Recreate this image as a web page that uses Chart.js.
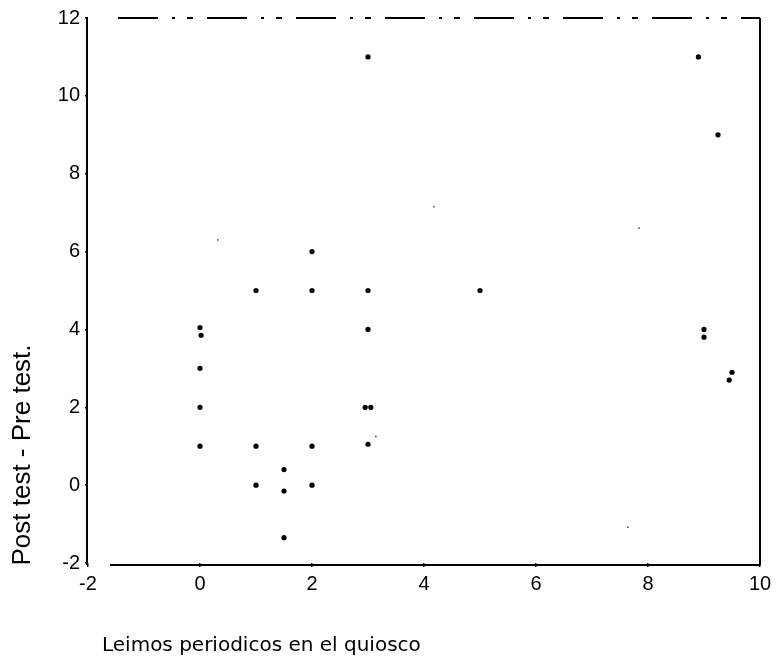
<!DOCTYPE html>
<html>
<head>
<meta charset="utf-8">
<title>Post test - Pre test</title>
<script src="https://cdn.jsdelivr.net/npm/chart.js@4.4.1/dist/chart.umd.min.js"></script>
<style>
    html, body { margin: 0; padding: 0; background: #fff; }
    #chart { display: block; }
</style>
</head>
<body>
<canvas id="chart" width="777" height="658"></canvas>
<script>
// Reading of newspapers at the kiosk vs. change in score (post - pre)
const lecturaX = [0, 0.02, 0, 0, 0, 1, 1, 1, 1.5, 1.5, 1.5, 2, 2, 2, 2, 3, 3, 3, 2.95, 3.05, 3, 5, 8.9, 9.25, 9, 9, 9.5, 9.45];
const cambioY = [4.05, 3.85, 3, 2, 1, 5, 1, 0, 0.4, -0.15, -1.35, 6, 5, 1, 0, 11, 5, 4, 2, 2, 1.05, 5, 11, 9, 4, 3.8, 2.9, 2.7];

// Lightly printed marks
const tenueX = [0.32, 4.18, 7.84, 7.64, 3.14];
const tenueY = [6.3, 7.15, 6.6, -1.08, 1.25];

const xTicks = [-2, 0, 2, 4, 6, 8, 10];
const yTicks = [-2, 0, 2, 4, 6, 8, 10, 12];

const xTitle = 'Leimos periodicos en el quiosco';
const yTitle = 'Post test - Pre test.';

const FONT = '"Liberation Sans", Arial, sans-serif';
const TITLE_FONT = '"DejaVu Sans", sans-serif';

function toPoints(xs, ys) {
    return xs.map((x, i) => ({ x: x, y: ys[i] }));
}

/**
 * Frame and axis titles drawn by hand
 */
const framePlugin = {
    id: 'frame',
    afterDraw(chart) {
        const ctx = chart.ctx;
        const area = chart.chartArea;

        ctx.save();
        ctx.strokeStyle = '#000';
        ctx.lineWidth = 2;

        // left axis
        ctx.beginPath();
        ctx.moveTo(area.left - 1, area.top);
        ctx.lineTo(area.left - 1, area.bottom + 2);
        ctx.stroke();

        // bottom axis, starts a little right of the corner
        ctx.beginPath();
        ctx.moveTo(area.left + 22, area.bottom + 2);
        ctx.lineTo(area.right, area.bottom + 2);
        ctx.stroke();

        // right border
        ctx.beginPath();
        ctx.moveTo(area.right, area.top);
        ctx.lineTo(area.right, area.bottom + 2);
        ctx.stroke();

        // top border, broken line
        ctx.setLineDash([40, 14, 3, 12, 6, 14]);
        ctx.beginPath();
        ctx.moveTo(area.left + 30, area.top);
        ctx.lineTo(area.right, area.top);
        ctx.stroke();
        ctx.setLineDash([]);

        // axis titles
        ctx.fillStyle = '#000';
        ctx.font = '20px ' + TITLE_FONT;
        ctx.textAlign = 'left';
        ctx.textBaseline = 'alphabetic';
        ctx.fillText(xTitle, 102, 651);

        ctx.translate(23, 455);
        ctx.rotate(-Math.PI / 2);
        ctx.textAlign = 'center';
        ctx.textBaseline = 'middle';
        ctx.font = '26px ' + FONT;
        ctx.fillText(yTitle, 0, 0);
        ctx.restore();
    }
};

document.addEventListener('DOMContentLoaded', function() {
    const ctx = document.getElementById('chart').getContext('2d');

    new Chart(ctx, {
        type: 'scatter',
        data: {
            datasets: [{
                label: 'Cambio',
                data: toPoints(lecturaX, cambioY),
                backgroundColor: '#000',
                borderColor: '#000',
                pointRadius: 2.6,
                borderWidth: 0
            }, {
                label: 'Tenue',
                data: toPoints(tenueX, tenueY),
                backgroundColor: '#555',
                borderColor: '#555',
                pointRadius: 0.9,
                borderWidth: 0
            }]
        },
        options: {
            responsive: false,
            animation: false,
            layout: {
                padding: { top: 18, right: 17, left: 0, bottom: 0 }
            },
            plugins: {
                legend: { display: false },
                tooltip: { enabled: false }
            },
            scales: {
                x: {
                    type: 'linear',
                    min: -2,
                    max: 10,
                    afterBuildTicks: scale => {
                        scale.ticks = xTicks.map(v => ({ value: v }));
                    },
                    afterFit: scale => {
                        scale.height = 95;
                    },
                    border: { display: false },
                    grid: {
                        drawOnChartArea: false,
                        color: '#000',
                        lineWidth: 1.5,
                        tickLength: 4
                    },
                    ticks: {
                        color: '#000',
                        padding: 5,
                        font: { family: FONT, size: 20 }
                    }
                },
                y: {
                    type: 'linear',
                    min: -2,
                    max: 12,
                    afterBuildTicks: scale => {
                        scale.ticks = yTicks.map(v => ({ value: v }));
                    },
                    afterFit: scale => {
                        scale.width = 88;
                    },
                    border: { display: false },
                    grid: {
                        drawOnChartArea: false,
                        color: '#000',
                        lineWidth: 1.5,
                        tickLength: 3
                    },
                    ticks: {
                        color: '#000',
                        padding: 5,
                        font: { family: FONT, size: 20 }
                    }
                }
            }
        },
        plugins: [framePlugin]
    });
});
</script>
</body>
</html>
